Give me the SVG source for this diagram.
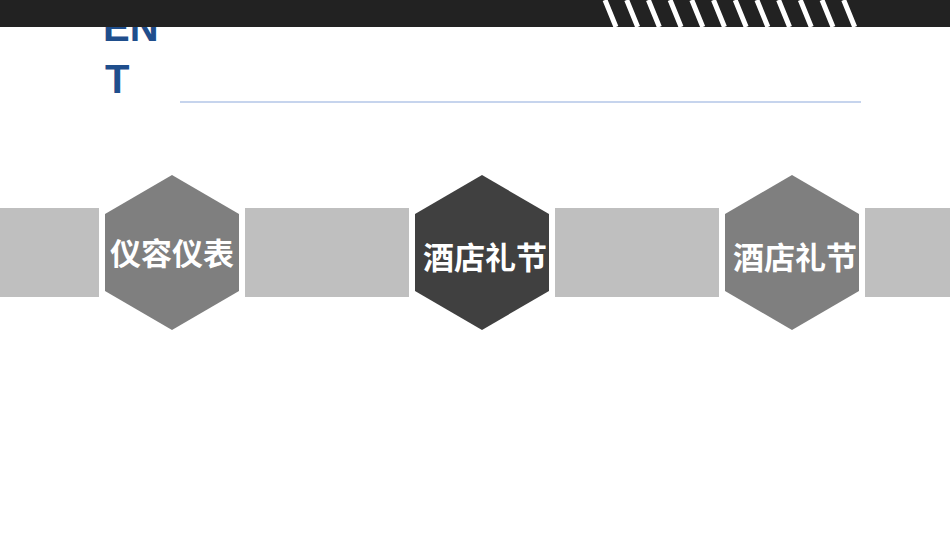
<svg xmlns="http://www.w3.org/2000/svg" width="950" height="535" viewBox="0 0 950 535">
<style>
.bar{fill:#bfbfbf}
.t{font-family:"Noto Sans CJK SC","Liberation Sans",sans-serif;font-weight:bold;font-size:31px;fill:#fff;text-anchor:middle}
.h{font-family:"Liberation Sans",sans-serif;font-weight:bold;font-size:40px;fill:#1f4e8c}
</style>
<rect width="950" height="535" fill="#fff"/>
<text class="h" x="103" y="41">EN</text>
<text class="h" x="105" y="93">T</text>
<rect x="0" y="0" width="950" height="27" fill="#222"/>
<g stroke="#fff" stroke-width="5">
<path d="M605,0 L616,27 M626.7,0 L637.7,27 M648.4,0 L659.4,27 M670.1,0 L681.1,27 M691.8,0 L702.8,27 M713.5,0 L724.5,27 M735.2,0 L746.2,27 M756.9,0 L767.9,27 M778.6,0 L789.6,27 M800.3,0 L811.3,27 M822,0 L833,27 M843.7,0 L854.7,27"/>
</g>
<line x1="180" y1="102" x2="861" y2="102" stroke="#8eaadb" stroke-width="1.2"/>
<g id="connectors">
<rect class="bar" x="0" y="208" width="99" height="89"/>
<rect class="bar" x="245" y="208" width="164" height="89"/>
<rect class="bar" x="555" y="208" width="164" height="89"/>
<rect class="bar" x="865" y="208" width="85" height="89"/>
</g>
<g id="n1"><polygon points="172,175 239,214 239,291 172,330 105,291 105,214" fill="#7f7f7f"/><text class="t" x="172" y="265">仪容仪表</text></g>
<g id="n2"><polygon points="482,175 549,214 549,291 482,330 415,291 415,214" fill="#404040"/><text class="t" x="485" y="269">酒店礼节</text></g>
<g id="n3"><polygon points="792,175 859,214 859,291 792,330 725,291 725,214" fill="#7f7f7f"/><text class="t" x="795" y="269">酒店礼节</text></g>
</svg>
